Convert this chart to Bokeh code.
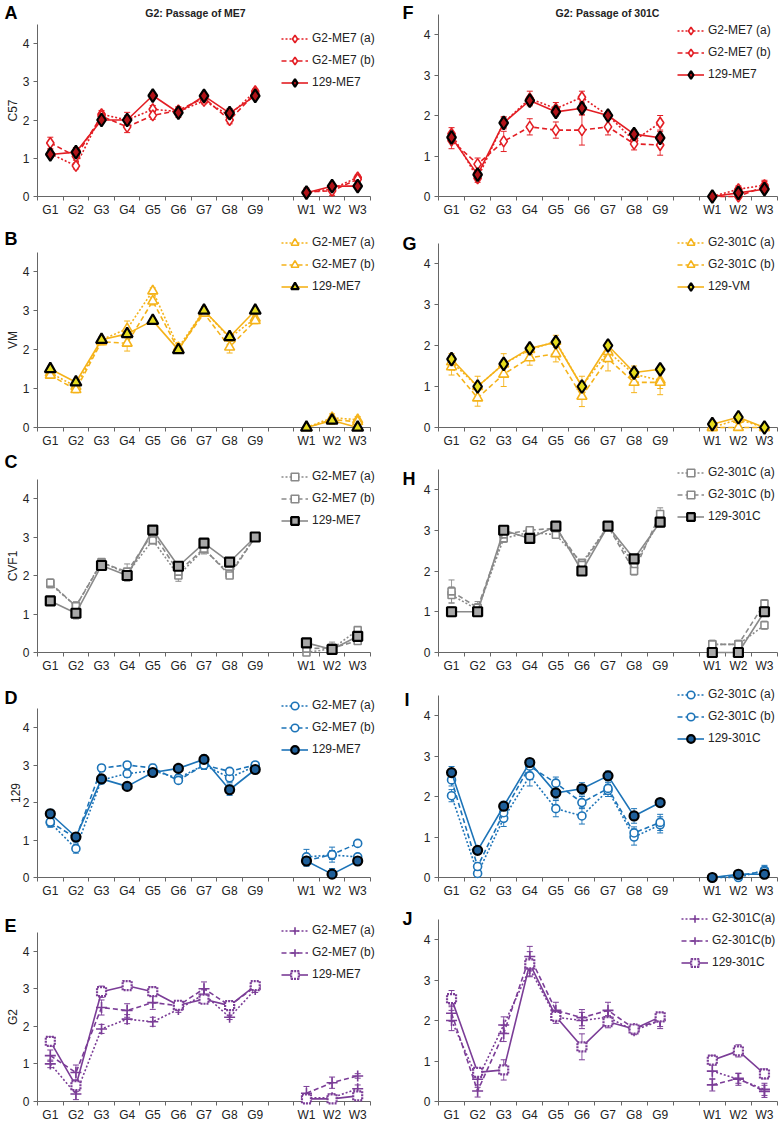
import math
from bokeh.plotting import figure
from bokeh.layouts import column, row
from bokeh.models import (Range1d, FixedTicker, Legend, LegendItem, Label,
                          ColumnDataSource, Whisker, TeeHead)
from bokeh.embed import file_html
from bokeh.resources import INLINE

FONT = "Liberation Sans"

categories = ["G1", "G2", "G3", "G4", "G5", "G6", "G7", "G8", "G9", "W1", "W2", "W3"]
x_positions = [0, 1, 2, 3, 4, 5, 6, 7, 8, 10, 11, 12]
y_ticks = [0, 1, 2, 3, 4]

# ---------------- data (values, error bars) ----------------
# A: C57, passage of ME7
A_a = [1.12, 0.80, 2.15, 2.00, 2.28, 2.22, 2.50, 2.12, 2.75, 0.10, 0.20, 0.50]
A_b = [1.40, 1.05, 2.10, 1.82, 2.12, 2.25, 2.58, 2.00, 2.70, 0.12, 0.15, 0.45]
A_c = [1.10, 1.16, 2.00, 2.00, 2.64, 2.19, 2.63, 2.18, 2.63, 0.10, 0.27, 0.27]
A_a_err = [0.10, 0.08, 0.10, 0.12, 0.10, 0.10, 0.08, 0.10, 0.06, 0.06, 0.08, 0.06]
A_b_err = [0.15, 0.10, 0.10, 0.15, 0.10, 0.10, 0.08, 0.10, 0.06, 0.10, 0.12, 0.06]
A_c_err = [0.08, 0.12, 0.06, 0.20, 0.06, 0.12, 0.06, 0.12, 0.05, 0.06, 0.10, 0.05]
# F: C57, passage of 301C
F_a = [1.55, 0.45, 1.82, 2.42, 2.17, 2.45, 2.00, 1.38, 1.82, 0.00, 0.18, 0.28]
F_b = [1.38, 0.80, 1.36, 1.72, 1.64, 1.64, 1.72, 1.30, 1.27, 0.00, 0.00, 0.25]
F_c = [1.46, 0.54, 1.82, 2.37, 2.09, 2.18, 2.00, 1.54, 1.45, 0.00, 0.09, 0.18]
F_a_err = [0.15, 0.10, 0.15, 0.18, 0.15, 0.15, 0.10, 0.12, 0.18, 0.03, 0.08, 0.12]
F_b_err = [0.20, 0.15, 0.25, 0.20, 0.20, 0.37, 0.20, 0.15, 0.25, 0.03, 0.05, 0.12]
F_c_err = [0.10, 0.10, 0.12, 0.10, 0.10, 0.15, 0.05, 0.10, 0.15, 0.02, 0.05, 0.08]
# B: VM, passage of ME7
B_a = [1.40, 1.05, 2.25, 2.53, 3.50, 2.05, 3.00, 2.30, 2.80, 0.00, 0.25, 0.20]
B_b = [1.34, 0.97, 2.20, 2.16, 3.24, 2.00, 2.93, 2.06, 2.74, 0.00, 0.20, 0.15]
B_c = [1.50, 1.16, 2.25, 2.40, 2.74, 1.99, 3.00, 2.32, 3.00, 0.00, 0.18, 0.00]
B_a_err = [0.10, 0.08, 0.08, 0.20, 0.08, 0.10, 0.10, 0.08, 0.08, 0.03, 0.10, 0.08]
B_b_err = [0.08, 0.08, 0.08, 0.20, 0.10, 0.10, 0.08, 0.15, 0.08, 0.03, 0.08, 0.08]
B_c_err = [0.08, 0.08, 0.06, 0.10, 0.06, 0.06, 0.08, 0.08, 0.06, 0.03, 0.10, 0.03]
# G: VM, passage of 301C
G_a = [1.60, 1.00, 1.55, 1.90, 2.10, 1.00, 1.85, 1.30, 1.15, 0.00, 0.20, 0.00]
G_b = [1.48, 0.72, 1.30, 1.70, 1.80, 0.76, 1.68, 1.10, 1.10, 0.00, 0.00, 0.00]
G_c = [1.67, 1.00, 1.55, 1.93, 2.08, 1.00, 2.00, 1.34, 1.42, 0.08, 0.25, 0.00]
G_a_err = [0.20, 0.25, 0.25, 0.12, 0.15, 0.25, 0.10, 0.20, 0.20, 0.02, 0.10, 0.02]
G_b_err = [0.20, 0.20, 0.30, 0.18, 0.20, 0.25, 0.30, 0.25, 0.30, 0.02, 0.02, 0.02]
G_c_err = [0.08, 0.08, 0.10, 0.06, 0.08, 0.06, 0.06, 0.10, 0.08, 0.03, 0.08, 0.02]
# C: CVF1, passage of ME7
C_a = [1.78, 1.20, 2.35, 2.05, 2.92, 2.00, 2.68, 2.05, 3.00, 0.00, 0.10, 0.58]
C_b = [1.81, 1.20, 2.33, 2.10, 3.10, 2.10, 2.70, 2.00, 3.00, 0.10, 0.12, 0.30]
C_c = [1.34, 1.02, 2.26, 2.00, 3.18, 2.24, 2.84, 2.35, 3.00, 0.25, 0.08, 0.42]
C_a_err = [0.10, 0.10, 0.06, 0.12, 0.10, 0.15, 0.12, 0.08, 0.05, 0.05, 0.10, 0.06]
C_b_err = [0.10, 0.12, 0.06, 0.20, 0.08, 0.12, 0.10, 0.08, 0.05, 0.08, 0.15, 0.06]
C_c_err = [0.08, 0.15, 0.05, 0.15, 0.08, 0.10, 0.08, 0.05, 0.05, 0.05, 0.08, 0.08]
# H: CVF1, passage of 301C
H_a = [1.41, 1.05, 2.80, 2.95, 2.89, 2.20, 3.10, 2.15, 3.25, 0.20, 0.20, 0.67]
H_b = [1.50, 1.10, 2.90, 3.00, 3.05, 2.15, 3.10, 2.00, 3.40, 0.20, 0.20, 1.20]
H_c = [1.00, 1.00, 3.00, 2.80, 3.10, 2.00, 3.10, 2.30, 3.20, 0.00, 0.00, 1.00]
H_a_err = [0.20, 0.15, 0.10, 0.08, 0.08, 0.08, 0.06, 0.08, 0.15, 0.10, 0.10, 0.10]
H_b_err = [0.28, 0.15, 0.08, 0.08, 0.10, 0.06, 0.06, 0.10, 0.15, 0.10, 0.10, 0.10]
H_c_err = [0.12, 0.10, 0.05, 0.10, 0.10, 0.05, 0.05, 0.10, 0.12, 0.03, 0.03, 0.10]
# D: 129, passage of ME7
D_a = [1.46, 0.77, 2.60, 2.77, 2.85, 2.65, 3.00, 2.66, 2.97, 0.55, 0.60, 0.55]
D_b = [1.48, 1.05, 2.92, 3.00, 2.92, 2.59, 3.00, 2.83, 3.00, 0.45, 0.61, 0.91]
D_c = [1.70, 1.08, 2.63, 2.43, 2.80, 2.91, 3.15, 2.34, 2.88, 0.44, 0.09, 0.44]
D_a_err = [0.12, 0.12, 0.10, 0.10, 0.10, 0.10, 0.12, 0.12, 0.06, 0.20, 0.12, 0.06]
D_b_err = [0.10, 0.10, 0.08, 0.08, 0.10, 0.08, 0.10, 0.08, 0.06, 0.15, 0.20, 0.06]
D_c_err = [0.12, 0.10, 0.10, 0.06, 0.06, 0.06, 0.12, 0.15, 0.06, 0.12, 0.15, 0.06]
# I: 129, passage of 301C
I_a = [2.02, 0.10, 1.46, 2.51, 1.70, 1.52, 2.15, 1.00, 1.30, 0.00, 0.00, 0.18]
I_b = [2.41, 0.27, 1.60, 2.75, 2.33, 1.85, 2.20, 1.10, 1.36, 0.00, 0.05, 0.15]
I_c = [2.59, 0.67, 1.76, 2.84, 2.09, 2.19, 2.51, 1.52, 1.85, 0.00, 0.08, 0.08]
I_a_err = [0.15, 0.15, 0.20, 0.25, 0.20, 0.20, 0.15, 0.20, 0.20, 0.02, 0.05, 0.12]
I_b_err = [0.15, 0.10, 0.20, 0.15, 0.15, 0.15, 0.15, 0.15, 0.20, 0.02, 0.05, 0.10]
I_c_err = [0.15, 0.08, 0.12, 0.08, 0.15, 0.15, 0.12, 0.18, 0.06, 0.02, 0.05, 0.05]
# E: G2, passage of ME7
E_a = [1.00, 0.20, 1.93, 2.19, 2.12, 2.45, 2.85, 2.24, 2.98, 0.10, 0.10, 0.34]
E_b = [1.22, 0.77, 2.50, 2.42, 2.63, 2.55, 3.00, 2.55, 3.05, 0.22, 0.50, 0.68]
E_c = [1.60, 0.42, 2.92, 3.08, 2.92, 2.56, 2.72, 2.55, 3.08, 0.07, 0.07, 0.15]
E_a_err = [0.10, 0.15, 0.12, 0.12, 0.12, 0.08, 0.12, 0.06, 0.08, 0.10, 0.10, 0.10]
E_b_err = [0.15, 0.20, 0.20, 0.18, 0.18, 0.10, 0.18, 0.08, 0.08, 0.18, 0.15, 0.06]
E_c_err = [0.12, 0.15, 0.15, 0.06, 0.12, 0.08, 0.08, 0.08, 0.08, 0.05, 0.05, 0.05]
# J: G2, passage of 301C
J_a = [2.00, 0.55, 1.89, 3.28, 2.08, 2.00, 2.08, 1.75, 2.00, 0.75, 0.55, 0.30]
J_b = [2.18, 0.26, 1.68, 3.58, 2.25, 2.07, 2.25, 1.80, 2.00, 0.41, 0.57, 0.25]
J_c = [2.54, 0.72, 0.78, 3.40, 2.10, 1.35, 1.97, 1.79, 2.09, 1.02, 1.25, 0.68]
J_a_err = [0.25, 0.20, 0.20, 0.20, 0.15, 0.20, 0.15, 0.10, 0.15, 0.20, 0.15, 0.15]
J_b_err = [0.20, 0.15, 0.20, 0.25, 0.20, 0.20, 0.20, 0.10, 0.20, 0.15, 0.12, 0.15]
J_c_err = [0.20, 0.10, 0.25, 0.30, 0.10, 0.32, 0.15, 0.10, 0.10, 0.12, 0.15, 0.12]

names_me7 = ["G2-ME7 (a)", "G2-ME7 (b)", "129-ME7"]

# ---------------- styles ----------------
STYLES = {
    "red":    dict(color="#e31e24", open="diamond", osize=11, m129="diamond", size129=13, fill129="#b01318", line129="black"),
    "yellow": dict(color="#f5b31a", open="triangle", osize=10, m129="triangle", size129=11, fill129="#e6dc1e", line129="black"),
    "gray":   dict(color="#8a8a8a", open="square", osize=7, m129="square", size129=9, fill129="#a8a8a8", line129="black"),
    "blue":   dict(color="#1d74b8", open="circle", osize=8, m129="circle", size129=9, fill129="#1f5f99", line129="black"),
    "purple": dict(color="#7b3d97", open="cross", osize=11, m129="square", size129=9, fill129="white", line129="#7b3d97"),
}
DASHES = ["2 2", "5 3", "solid"]

# page geometry (pixels). Each figure's frame covers the whole figure; axes are pinned.
ROW_SPAN = [(0, 227), (227, 222), (449, 233), (682, 224), (906, 217)]     # (top, height)
COLS = [dict(x=0, width=400, fl=37, fr=370), dict(x=400, width=380, fl=438, fr=777)]

# base = page y of value 0, unit = px per y unit; leg/let/title = page positions
PANELS = [
    dict(letter="A", col=0, row=0, ylabel="C57", style="red", base=196, unit=38.25,
         names=names_me7, vals=(A_a, A_b, A_c), errs=(A_a_err, A_b_err, A_c_err),
         leg=(281, 38), let=(4, 12), title=("G2: Passage of ME7", 195, 12)),
    dict(letter="F", col=1, row=0, ylabel=None, style="red", base=196, unit=40.5,
         names=names_me7, vals=(F_a, F_b, F_c), errs=(F_a_err, F_b_err, F_c_err),
         leg=(677, 30), let=(402, 12), title=("G2: Passage of 301C", 607, 12)),
    dict(letter="B", col=0, row=1, ylabel="VM", style="yellow", base=427, unit=39.0,
         names=names_me7, vals=(B_a, B_b, B_c), errs=(B_a_err, B_b_err, B_c_err),
         leg=(281, 242), let=(4, 238), title=None),
    dict(letter="G", col=1, row=1, ylabel=None, style="yellow", m129="diamond", base=427, unit=41.0,
         names=["G2-301C (a)", "G2-301C (b)", "129-VM"], vals=(G_a, G_b, G_c), errs=(G_a_err, G_b_err, G_c_err),
         leg=(677, 242), let=(402, 243), title=None),
    dict(letter="C", col=0, row=2, ylabel="CVF1", style="gray", base=652, unit=38.5,
         names=names_me7, vals=(C_a, C_b, C_c), errs=(C_a_err, C_b_err, C_c_err),
         leg=(281, 476), let=(4, 461), title=None),
    dict(letter="H", col=1, row=2, ylabel=None, style="gray", base=652, unit=40.75,
         names=["G2-301C (a)", "G2-301C (b)", "129-301C"], vals=(H_a, H_b, H_c), errs=(H_a_err, H_b_err, H_c_err),
         leg=(677, 472), let=(402, 478), title=None),
    dict(letter="D", col=0, row=3, ylabel="129", style="blue", base=877, unit=37.5,
         names=names_me7, vals=(D_a, D_b, D_c), errs=(D_a_err, D_b_err, D_c_err),
         leg=(281, 705), let=(4, 697), title=None),
    dict(letter="I", col=1, row=3, ylabel=None, style="blue", base=877, unit=40.5,
         names=["G2-301C (a)", "G2-301C (b)", "129-301C"], vals=(I_a, I_b, I_c), errs=(I_a_err, I_b_err, I_c_err),
         leg=(677, 694), let=(404, 699), title=None),
    dict(letter="E", col=0, row=4, ylabel="G2", style="purple", base=1101, unit=37.6,
         names=names_me7, vals=(E_a, E_b, E_c), errs=(E_a_err, E_b_err, E_c_err),
         leg=(281, 930), let=(4, 925), title=None),
    dict(letter="J", col=1, row=4, ylabel=None, style="purple", base=1101, unit=40.5,
         names=["G2-301C(a)", "G2-301C(b)", "129-301C"], vals=(J_a, J_b, J_c), errs=(J_a_err, J_b_err, J_c_err),
         leg=(681, 918), let=(402, 918), title=None),
]

AXIS_COLOR = "#666666"
TEXT_COLOR = "#222222"
GLYPH_H = 19
SPACING = 3


def make_panel(spec):
    S, H = ROW_SPAN[spec["row"]]
    cg = COLS[spec["col"]]
    W = cg["width"]
    slot = (cg["fr"] - cg["fl"]) / 13.0
    x_start = -0.5 - (cg["fl"] - cg["x"]) / slot
    x_end = 12.5 + (cg["x"] + W - cg["fr"]) / slot
    u = spec["unit"]
    y_start = -(S + H - spec["base"]) / u
    y_end = (spec["base"] - S) / u

    p = figure(width=W, height=H, x_range=Range1d(x_start, x_end), y_range=Range1d(y_start, y_end),
               output_backend="svg", toolbar_location=None,
               min_border_left=0, min_border_right=0, min_border_top=0, min_border_bottom=0)
    p.outline_line_color = None
    p.xgrid.visible = False
    p.ygrid.visible = False
    p.background_fill_color = "white"

    xa = p.xaxis[0]
    xa.fixed_location = 0
    xa.bounds = (-0.5, 12.5)
    xa.ticker = FixedTicker(ticks=x_positions, minor_ticks=[i - 0.5 for i in range(14)])
    xa.major_label_overrides = {x: c for x, c in zip(x_positions, categories)}
    xa.major_tick_out = 0
    xa.major_tick_in = 0
    xa.minor_tick_out = 4
    xa.minor_tick_in = 0
    xa.minor_tick_line_color = AXIS_COLOR
    xa.axis_line_color = AXIS_COLOR
    xa.major_label_text_font = FONT
    xa.major_label_text_font_size = "12px"
    xa.major_label_text_color = TEXT_COLOR
    xa.major_label_standoff = 2

    ya = p.yaxis[0]
    ya.fixed_location = -0.5
    ya.bounds = (0, 4.5)
    ya.ticker = FixedTicker(ticks=y_ticks)
    ya.major_tick_out = 4
    ya.major_tick_in = 0
    ya.minor_tick_line_color = None
    ya.axis_line_color = AXIS_COLOR
    ya.major_tick_line_color = AXIS_COLOR
    ya.major_label_text_font = FONT
    ya.major_label_text_font_size = "12px"
    ya.major_label_text_color = TEXT_COLOR
    ya.major_label_standoff = 4
    if spec["ylabel"]:
        ya.axis_label = spec["ylabel"]
        ya.axis_label_text_font = FONT
        ya.axis_label_text_font_size = "12px"
        ya.axis_label_text_font_style = "normal"
        ya.axis_label_text_color = TEXT_COLOR
        ya.axis_label_standoff = 0

    st = STYLES[spec["style"]]
    color = st["color"]
    items = []
    for k in range(3):
        vals = spec["vals"][k]
        errs = spec["errs"][k]
        line_y = vals[:9] + [math.nan] + vals[9:]
        lr = p.line(list(range(13)), line_y, line_color=color, line_width=1.6,
                    line_dash=DASHES[k], level="overlay")
        src = ColumnDataSource(dict(x=x_positions, y=vals,
                                    up=[v + e for v, e in zip(vals, errs)],
                                    lo=[max(v - e, 0) for v, e in zip(vals, errs)]))
        wh = Whisker(source=src, base="x", upper="up", lower="lo", dimension="height",
                     line_color=color, line_width=1, line_alpha=0.85,
                     upper_head=TeeHead(size=6, line_color=color, line_width=1),
                     lower_head=TeeHead(size=6, line_color=color, line_width=1))
        p.add_layout(wh)
        if k < 2:
            sr = p.scatter("x", "y", source=src, marker=st["open"], size=st["osize"],
                           fill_color="white", line_color=color, line_width=1.6, level="overlay")
        else:
            m = spec.get("m129", st["m129"])
            size = 13 if m == "diamond" else st["size129"]
            kw = {}
            if spec["style"] == "purple":
                kw["line_dash"] = "2 1"
            sr = p.scatter("x", "y", source=src, marker=m, size=size,
                           fill_color=st["fill129"], line_color=st["line129"], line_width=2.2,
                           level="overlay", **kw)
        items.append(LegendItem(label=spec["names"][k], renderers=[lr, sr]))

    # legend: location is bottom-left corner, in pixels from the figure's bottom-left
    lg_x, lg_c = spec["leg"]
    leg_h = 3 * GLYPH_H + 2 * SPACING
    leg = Legend(items=items, location=(lg_x - cg["x"], (S + H) - (lg_c - GLYPH_H / 2 + leg_h)),
                 glyph_width=27, glyph_height=GLYPH_H, label_height=GLYPH_H,
                 spacing=SPACING, padding=0, margin=0, label_standoff=4,
                 label_text_font=FONT, label_text_font_size="12px", label_text_color=TEXT_COLOR,
                 background_fill_alpha=0, border_line_color=None)
    p.add_layout(leg)

    lt_x, lt_y = spec["let"]
    p.add_layout(Label(x=lt_x - cg["x"], y=(S + H) - lt_y, x_units="screen", y_units="screen",
                       text=spec["letter"], text_font=FONT, text_font_style="bold",
                       text_font_size="18px", text_color="black",
                       text_baseline="middle", text_align="left"))
    if spec["title"]:
        t, tx, ty = spec["title"]
        p.add_layout(Label(x=tx - cg["x"], y=(S + H) - ty, x_units="screen", y_units="screen",
                           text=t, text_font=FONT, text_font_style="bold",
                           text_font_size="10.5px", text_color=TEXT_COLOR,
                           text_baseline="middle", text_align="center"))
    return p


figs = {}
for s in PANELS:
    figs[(s["row"], s["col"])] = make_panel(s)

layout = column([row([figs[(r, 0)], figs[(r, 1)]], spacing=0) for r in range(5)], spacing=0)
open("out.html", "w").write(file_html(layout, INLINE))
